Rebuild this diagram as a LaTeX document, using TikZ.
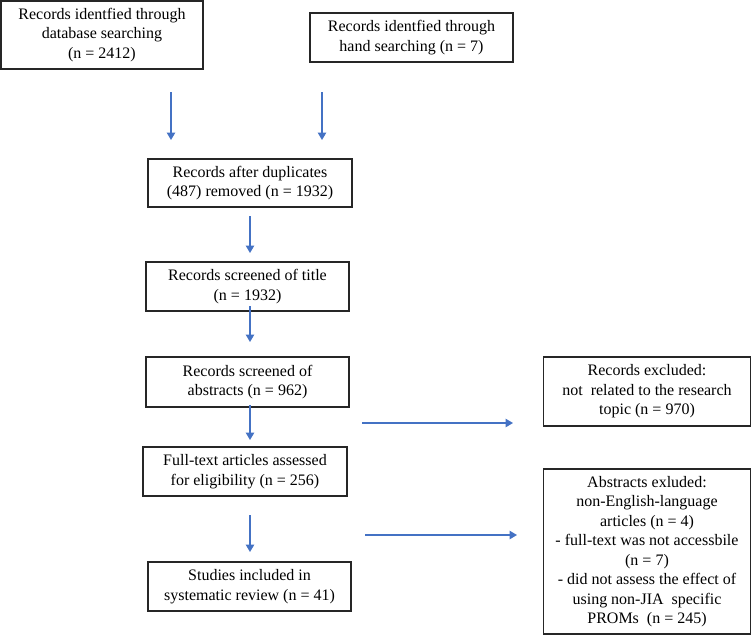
\documentclass[tikz,border=0pt]{standalone}
\usepackage{fontspec}
\setmainfont{Liberation Serif}
\usetikzlibrary{arrows.meta}
\definecolor{arrowblue}{HTML}{4472C4}
\begin{document}
\begin{tikzpicture}[x=1pt,y=-1pt,
  box/.style={draw=black!85,line width=1.1pt,rectangle,inner sep=0pt,align=center,
    font=\fontsize{16}{19.5}\selectfont},
  flowarrow/.style={draw=arrowblue,line width=1.3pt,-{Triangle[width=8.5pt,length=7.5pt]}}]
\useasboundingbox (0,0) rectangle (751,635);
\node[box,minimum width=202pt,minimum height=68pt] (db) at (102,35)
  {Records identfied through\\database searching\\(n = 2412)};
\node[box,minimum width=203pt,minimum height=49pt] (hand) at (411.5,37.5)
  {Records identfied through\\hand searching (n = 7)};
\node[box,minimum width=204pt,minimum height=48pt] (dup) at (250,183)
  {Records after duplicates\\(487) removed (n = 1932)};
\node[box,minimum width=203pt,minimum height=49pt] (title) at (247.5,286.5)
  {Records screened of title\\(n = 1932)};
\node[box,minimum width=203pt,minimum height=50pt] (abs) at (247.5,382)
  {Records screened of\\abstracts (n = 962)};
\node[box,minimum width=204pt,minimum height=49pt] (full) at (245,471.5)
  {Full-text articles assessed\\for eligibility (n = 256)};
\node[box,minimum width=203pt,minimum height=49pt] (incl) at (249.5,586.5)
  {Studies included in\\systematic review (n = 41)};
\node[box,minimum width=207pt,minimum height=69pt] (excl1) at (647,391.5)
  {Records excluded:\\not\ \ related to the research\\topic (n = 970)};
\node[box,minimum width=207pt,minimum height=165pt] (excl2) at (647,551.5)
  {Abstracts exluded:\\non-English-language\\articles (n = 4)\\- full-text was not accessbile\\(n = 7)\\- did not assess the effect of\\using non-JIA\ \ specific\\PROMs\ \ (n = 245)};
% arrow end points
\coordinate (a1s) at (171,92);  \coordinate (a1e) at (171,140);
\coordinate (a2s) at (322,92);  \coordinate (a2e) at (322,140);
\coordinate (a3s) at (250,216); \coordinate (a3e) at (250,253);
\coordinate (a4s) at (250,306); \coordinate (a4e) at (250,342);
\coordinate (a5s) at (250,405); \coordinate (a5e) at (250,440);
\coordinate (a6s) at (250,515); \coordinate (a6e) at (250,552);
\coordinate (h1s) at (362,423); \coordinate (h1e) at (513,423);
\coordinate (h2s) at (365,535); \coordinate (h2e) at (517,535);
\draw[flowarrow] (a1s) -- (a1e);
\draw[flowarrow] (a2s) -- (a2e);
\draw[flowarrow] (a3s) -- (a3e);
\draw[flowarrow] (a4s) -- (a4e);
\draw[flowarrow] (a5s) -- (a5e);
\draw[flowarrow] (a6s) -- (a6e);
\draw[flowarrow] (h1s) -- (h1e);
\draw[flowarrow] (h2s) -- (h2e);
\end{tikzpicture}
\end{document}
